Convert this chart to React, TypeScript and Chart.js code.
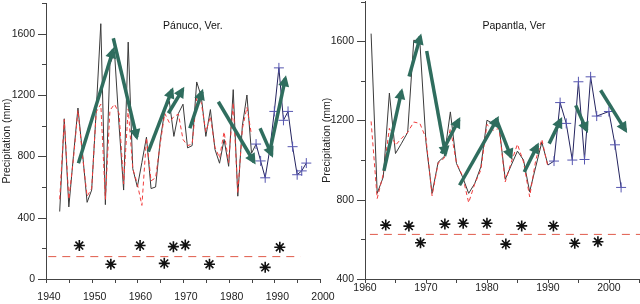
import React, { useEffect, useRef } from 'react';
import { Chart, registerables } from 'chart.js';
Chart.register(...registerables);

// ---------- Pánuco, Ver. ----------
const panucoYears = [1943,1944,1945,1946,1947,1948,1949,1950,1951,1952,1953,1954,1955,1956,1957,1958,1959,1960,1961,1962,1963,1964,1965,1966,1967,1968,1969,1970,1971,1972,1973,1974,1975,1976,1977,1978,1979,1980,1981,1982,1983,1984,1985,1986,1987,1988,1989,1990,1991,1992,1993,1994,1995,1996,1997];
const panucoPrecip = [440,1045,470,800,1115,820,500,580,1100,1665,485,1400,1480,1000,580,1545,720,600,760,925,590,600,900,1100,1160,930,1080,1140,855,870,1285,1190,930,1105,845,755,910,735,1235,540,1000,1200,820,880,770,660,845,1093,1377,1035,1093,863,680,705,756];
const panucoBlueFrom = 1986;
const panucoPlusYears = [1986,1987,1988,1990,1991,1992,1993,1994,1995,1996,1997];
const panucoSmoothYears = [1943,1944,1945,1946,1947,1948,1949,1950,1951,1952,1953,1954,1955,1956,1957,1958,1959,1960,1961,1962,1963,1964,1965,1966,1967,1968,1969,1970,1971,1972,1973,1974,1975,1976,1977,1978,1979,1980,1981,1982,1983,1984,1985];
const panucoSmooth = [520,1040,520,780,1100,800,540,590,1090,1140,520,1100,1140,1080,620,1110,720,620,480,920,640,660,880,1080,1020,1060,1075,910,870,880,1180,1150,960,1060,860,790,960,760,1150,560,980,1120,940];
const panucoStarYears = [1947.3,1954.2,1960.6,1965.9,1967.9,1970.5,1975.8,1988.0,1991.2];
const panucoStarVals = [218,96,218,102,211,222,96,76,207];
const panucoThreshold = 146;
const panucoThresholdSpan = [1940.5, 1995.7];
const panucoArrowStartYears = [1947.1,1954.74,1962.41,1966.8,1971.5,1977.74,1986.88,1989.07];
const panucoArrowStartVals = [755,1570,830,1081,983,1156,983,841];
const panucoArrowEndYears = [1954.7,1959.87,1967.6,1969.95,1974.17,1985.56,1989.44,1992.42];
const panucoArrowEndVals = [1494,924,1233,1237,1222,763,809,1309];

// ---------- Papantla, Ver ----------
const papantlaYears = [1961,1962,1963,1964,1965,1966,1967,1968,1969,1970,1971,1972,1973,1974,1975,1976,1977,1978,1979,1980,1981,1982,1983,1984,1985,1986,1987,1988,1989,1990,1991,1992,1993,1994,1995,1996,1997,1998,2000,2001,2002];
const papantlaPrecip = [1638,832,915,1338,1033,1085,1140,1605,1595,1090,832,990,1018,1243,983,915,832,882,966,1201,1184,1167,903,975,1045,1000,840,966,1090,975,995,1290,1185,1000,1395,1003,1420,1222,1245,1077,862];
const papantlaBlueFrom = 1990;
const papantlaPlusYears = [1991,1992,1993,1994,1995,1996,1997,1998,2000,2001,2002];
const papantlaSmoothYears = [1961,1962,1963,1964,1965,1966,1967,1968,1969,1970,1971,1972,1973,1974,1975,1976,1977,1978,1979,1980,1981,1982,1983,1984,1985,1986,1987,1988,1989,1990];
const papantlaSmooth = [1195,806,930,1160,1075,1110,1140,1192,1185,1110,820,985,1010,1160,985,920,785,880,950,1180,1150,1160,890,990,1080,990,815,1000,1105,965];
const papantlaStarYears = [1963.4,1967.2,1969.1,1973.1,1976.1,1980.0,1983.1,1985.7,1990.9,1994.4,1998.2];
const papantlaStarVals = [672,667,583,677,681,681,576,668,668,580,588];
const papantlaThreshold = 625;
const papantlaThresholdSpan = [1960.8, 2006];
const papantlaArrowStartYears = [1963.1,1967.23,1970.12,1972.52,1975.51,1981.5,1986.12,1990.2,1994.56,1998.64];
const papantlaArrowStartVals = [945,1422,1550,1033,873,1209,940,1083,1276,1352];
const papantlaArrowEndYears = [1966.0,1969.09,1973.2,1975.4,1981.71,1983.95,1988.29,1992.11,1996.36,2002.73];
const papantlaArrowEndVals = [1348,1624,1030,1204,1209,1016,1075,1204,1150,1150];

const yTitle = 'Precipitation (mm)';
const FONT = "'Liberation Sans', Arial, sans-serif";
const GREEN = '#2f6d5e';

const arrowHeadPlugin = {
  id: 'arrowHeads',
  afterDatasetsDraw(chart: any) {
    const ctx = chart.ctx;
    ctx.save();
    chart.data.datasets.forEach((ds: any, i: number) => {
      if (!ds.isArrow) return;
      const pts = chart.getDatasetMeta(i).data;
      if (pts.length < 2) return;
      const p0 = pts[0], p1 = pts[1];
      const dx = p1.x - p0.x, dy = p1.y - p0.y;
      const len = Math.hypot(dx, dy) || 1;
      const ux = dx / len, uy = dy / len;
      const nx = -uy, ny = ux;
      const L = 11, W = 5.5, ext = 3;
      const tx = p1.x + ux * ext, ty = p1.y + uy * ext;
      const bx = tx - ux * L, by = ty - uy * L;
      ctx.fillStyle = GREEN;
      ctx.beginPath();
      ctx.moveTo(tx, ty);
      ctx.lineTo(bx + nx * W, by + ny * W);
      ctx.lineTo(bx - nx * W, by - ny * W);
      ctx.closePath();
      ctx.fill();
    });
    ctx.restore();
  },
};

const tickMarksPlugin = {
  id: 'tickMarks',
  afterDraw(chart: any) {
    const ctx = chart.ctx;
    const xs = chart.scales.x, ys = chart.scales.y;
    ctx.save();
    ctx.strokeStyle = '#444';
    ctx.lineWidth = 1;
    ctx.beginPath();
    const x0 = Math.ceil(xs.min / 5) * 5;
    for (let v = x0; v <= xs.max + 1e-6; v += 5) {
      const px = Math.round(xs.getPixelForValue(v)) + 0.5;
      ctx.moveTo(px, xs.top);
      ctx.lineTo(px, xs.top + 4);
    }
    for (let v = ys.min; v <= ys.max + 1e-6; v += 200) {
      const py = Math.round(ys.getPixelForValue(v)) + 0.5;
      const l = v % 400 === 0 ? 8 : 4;
      ctx.moveTo(ys.right - l, py);
      ctx.lineTo(ys.right, py);
    }
    ctx.stroke();
    ctx.restore();
  },
};

const panelTitlePlugin = {
  id: 'panelTitle',
  afterDraw(chart: any, _args: any, opts: any) {
    const ctx = chart.ctx;
    const a = chart.chartArea;
    ctx.save();
    ctx.font = `10.5px ${FONT}`;
    ctx.fillStyle = '#111';
    ctx.textAlign = 'center';
    ctx.textBaseline = 'middle';
    ctx.fillText(opts.text, a.left + opts.frac * (a.right - a.left), opts.y);
    ctx.restore();
  },
};

type Panel = {
  years: number[]; precip: number[]; blueFrom: number; plusYears: number[];
  smoothYears: number[]; smooth: number[]; starYears: number[]; starVals: number[];
  threshold: number; thresholdSpan: number[];
  aSY: number[]; aSV: number[]; aEY: number[]; aEV: number[];
  xMin: number; xMax: number; yMin: number; yMax: number;
  yWidth: number; padTop: number; padRight: number; xPad: number; xLabelOffset: number;
  title: string; titleFrac: number;
};

function buildConfig(p: Panel): any {
  const pts = p.years.map((y, i) => ({ x: y, y: p.precip[i] }));
  const black = pts.filter((d) => d.x <= p.blueFrom);
  const navy = pts.filter((d) => d.x >= p.blueFrom);
  const plus = pts.filter((d) => p.plusYears.includes(d.x));
  const datasets: any[] = [];
  p.aSY.forEach((_, i) => {
    datasets.push({
      type: 'line', isArrow: true, order: 0,
      data: [{ x: p.aSY[i], y: p.aSV[i] }, { x: p.aEY[i], y: p.aEV[i] }],
      borderColor: GREEN, borderWidth: 3.5, borderCapStyle: 'butt', pointRadius: 0, tension: 0,
    });
  });
  datasets.push({
    type: 'scatter', order: 1,
    data: p.starYears.map((y, i) => ({ x: y, y: p.starVals[i] })),
    pointStyle: 'star', radius: 5.5, borderColor: '#111', backgroundColor: '#111', borderWidth: 1.6, showLine: false,
  });
  datasets.push({
    type: 'scatter', order: 2, data: plus,
    pointStyle: 'cross', radius: 5, borderColor: '#5656b0', borderWidth: 1, showLine: false,
  });
  datasets.push({
    type: 'line', order: 3, data: navy, borderColor: '#23235e', borderWidth: 1, pointRadius: 0, tension: 0,
  });
  datasets.push({
    type: 'line', order: 4,
    data: p.smoothYears.map((y, i) => ({ x: y, y: p.smooth[i] })),
    borderColor: '#f03c3c', borderWidth: 1, borderDash: [4, 3], pointRadius: 0, tension: 0,
  });
  datasets.push({
    type: 'line', order: 5, data: black, borderColor: '#3a3a3a', borderWidth: 1, pointRadius: 0, tension: 0,
  });
  datasets.push({
    type: 'line', order: 6,
    data: p.thresholdSpan.map((x) => ({ x, y: p.threshold })),
    borderColor: '#e05a4a', borderWidth: 1, borderDash: [8, 6], pointRadius: 0,
  });
  return {
    type: 'line',
    data: { datasets },
    plugins: [arrowHeadPlugin, tickMarksPlugin, panelTitlePlugin],
    options: {
      animation: false, responsive: false, maintainAspectRatio: false,
      layout: { autoPadding: false, padding: { top: p.padTop, right: p.padRight, left: 0, bottom: 0 } },
      plugins: {
        legend: { display: false }, tooltip: { enabled: false },
        panelTitle: { text: p.title, frac: p.titleFrac, y: 26 },
      },
      scales: {
        x: {
          type: 'linear', min: p.xMin, max: p.xMax,
          afterFit: (s: any) => { s.height = 25; s.paddingLeft = 0; s.paddingRight = 0; s.paddingTop = 0; s.paddingBottom = 0; },
          grid: { display: false, drawTicks: false },
          border: { display: true, color: '#444', width: 1 },
          ticks: {
            stepSize: 10, autoSkip: false, maxRotation: 0, includeBounds: false,
            padding: p.xPad, labelOffset: p.xLabelOffset, color: '#222',
            font: { family: FONT, size: 10.5 },
            callback: (v: number) => (Math.abs(v % 10) < 1e-6 ? String(v) : ''),
          },
        },
        y: {
          type: 'linear', min: p.yMin, max: p.yMax,
          afterFit: (s: any) => { s.width = p.yWidth; s.paddingTop = 0; s.paddingBottom = 0; s.paddingLeft = 0; s.paddingRight = 0; },
          grid: { display: false, drawTicks: false },
          border: { display: true, color: '#444', width: 1 },
          ticks: {
            stepSize: 200, autoSkip: false, padding: 11, color: '#222',
            font: { family: FONT, size: 10.5 },
            callback: (v: number) => (v % 400 === 0 ? String(v) : ''),
          },
          title: {
            display: true, text: yTitle, color: '#222',
            font: { family: FONT, size: 10.5 }, padding: { top: 1, bottom: 0 },
          },
        },
      },
    },
  };
}

const panuco: Panel = {
  years: panucoYears, precip: panucoPrecip, blueFrom: panucoBlueFrom, plusYears: panucoPlusYears,
  smoothYears: panucoSmoothYears, smooth: panucoSmooth, starYears: panucoStarYears, starVals: panucoStarVals,
  threshold: panucoThreshold, thresholdSpan: panucoThresholdSpan,
  aSY: panucoArrowStartYears, aSV: panucoArrowStartVals, aEY: panucoArrowEndYears, aEV: panucoArrowEndVals,
  xMin: 1940, xMax: 2000, yMin: 0, yMax: 1800,
  yWidth: 46, padTop: 3, padRight: 20, xPad: 12, xLabelOffset: 3,
  title: 'Pánuco, Ver.', titleFrac: 0.536,
};

const papantla: Panel = {
  years: papantlaYears, precip: papantlaPrecip, blueFrom: papantlaBlueFrom, plusYears: papantlaPlusYears,
  smoothYears: papantlaSmoothYears, smooth: papantlaSmooth, starYears: papantlaStarYears, starVals: papantlaStarVals,
  threshold: papantlaThreshold, thresholdSpan: papantlaThresholdSpan,
  aSY: papantlaArrowStartYears, aSV: papantlaArrowStartVals, aEY: papantlaArrowEndYears, aEV: papantlaArrowEndVals,
  xMin: 1960, xMax: 2005.1, yMin: 400, yMax: 1800,
  yWidth: 45, padTop: 1.5, padRight: 0, xPad: 3, xLabelOffset: 0,
  title: 'Papantla, Ver', titleFrac: 0.542,
};

function PanelChart({ panel, left, width }: { panel: Panel; left: number; width: number }) {
  const ref = useRef<HTMLCanvasElement | null>(null);
  useEffect(() => {
    if (!ref.current) return;
    const chart = new Chart(ref.current, buildConfig(panel));
    return () => chart.destroy();
  }, [panel]);
  return (
    <canvas
      ref={ref}
      width={width}
      height={304}
      style={{ position: 'absolute', left, top: 0, width, height: 304 }}
    />
  );
}

export default function App() {
  return (
    <div style={{ position: 'fixed', left: 0, top: 0, width: 640, height: 304, background: '#fff', overflow: 'hidden' }}>
      <PanelChart panel={panuco} left={0} width={340} />
      <PanelChart panel={papantla} left={320} width={320} />
    </div>
  );
}
